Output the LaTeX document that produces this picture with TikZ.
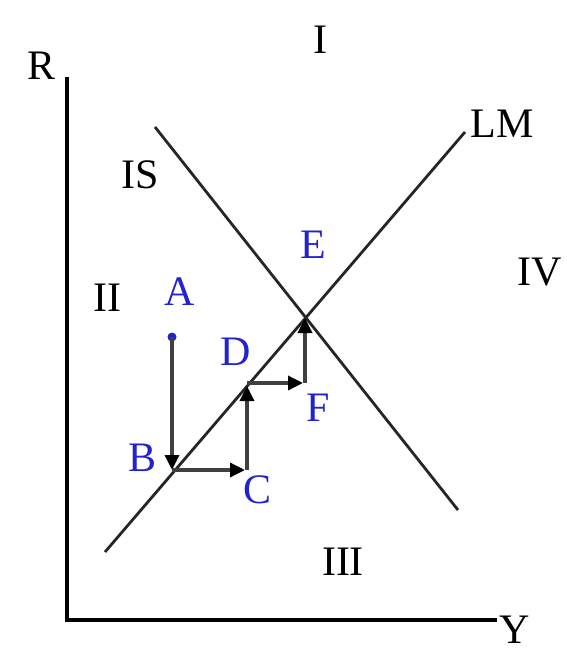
\documentclass[tikz,border=0pt]{standalone}
\usepackage{fontspec}
\setmainfont{Liberation Serif}
\usetikzlibrary{arrows.meta}
\definecolor{lblue}{RGB}{35,35,205}
\begin{document}
\begin{tikzpicture}[x=1pt,y=1pt,
  lbl/.style={font=\fontsize{42}{48}\selectfont, inner sep=0pt},
  bluelbl/.style={lbl, text=lblue},
  axis/.style={line width=3.8pt, black},
  curve/.style={line width=2.8pt, black!85},
  mv/.style={line width=3.4pt, black!75, -{Triangle[length=15pt,width=14pt,fill=black,color=black]}}]
\useasboundingbox (0,0) rectangle (566,-653);
% axes
\coordinate (Rtop) at (67,-77);
\coordinate (O) at (67,-620);
\coordinate (Yend) at (497,-620);
\draw[axis] (Rtop) -- (O) -- (Yend);
% curves
\coordinate (IS1) at (155,-127);
\coordinate (IS2) at (458,-510);
\coordinate (LM1) at (105,-552);
\coordinate (LM2) at (465,-132);
\draw[curve] (IS1) -- (IS2);
\draw[curve] (LM1) -- (LM2);
% points
\coordinate (A) at (172,-337);
\coordinate (B) at (172,-470);
\coordinate (C) at (245,-470);
\coordinate (C2) at (247,-470);
\coordinate (D) at (247,-386);
\coordinate (D2) at (247,-383);
\coordinate (F) at (303,-383);
\coordinate (F2) at (305,-383);
\coordinate (E) at (305,-318);
\fill[lblue] (A) circle (4.5pt);
\draw[mv] (A) -- (B);
\draw[mv] (B) -- (C);
\draw[mv] (C2) -- (D);
\draw[mv] (D2) -- (F);
\draw[mv] (F2) -- (E);
% labels
\node[lbl] (lR) at (42,-66) {R};
\node[lbl] (lY) at (515,-630) {Y};
\node[lbl] (lI) at (320,-40) {I};
\node[lbl] (lLM) at (502,-124) {LM};
\node[lbl] (lIS) at (140,-175) {IS};
\node[lbl] (lII) at (107,-298) {II};
\node[lbl] (lIV) at (540,-272) {IV};
\node[lbl] (lIII) at (343,-562) {III};
\node[bluelbl] (lE) at (313,-245) {E};
\node[bluelbl] (lA) at (180,-292) {A};
\node[bluelbl] (lD) at (236,-352) {D};
\node[bluelbl] (lF) at (318,-408) {F};
\node[bluelbl] (lB) at (143,-458) {B};
\node[bluelbl] (lC) at (258,-490) {C};
\end{tikzpicture}
\end{document}
